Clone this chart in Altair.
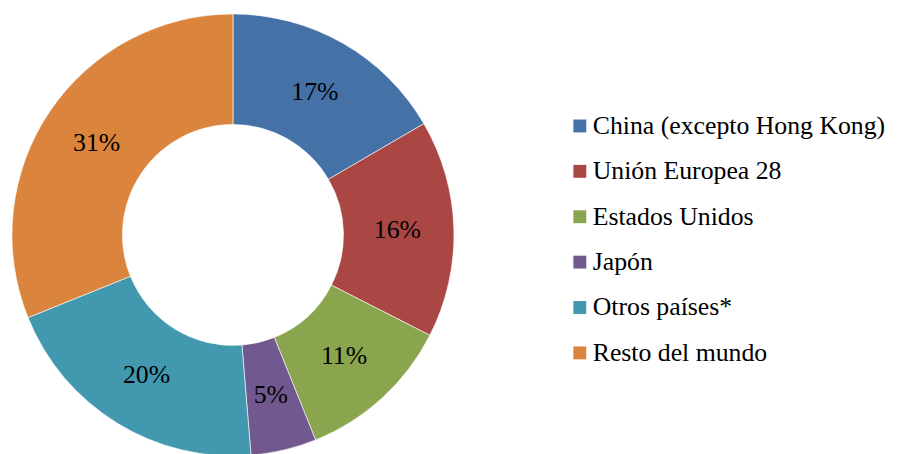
import altair as alt
import pandas as pd

categories = ["China (excepto Hong Kong)", "Unión Europea 28", "Estados Unidos",
              "Japón", "Otros países*", "Resto del mundo"]
values = [16.6, 15.9, 11.4, 4.8, 20.2, 31.1]
labels = ["17%", "16%", "11%", "5%", "20%", "31%"]
colors = ["#4472A7", "#AA4744", "#89A54E", "#71588F", "#4298AF", "#DB843D"]

df = pd.DataFrame({"cat": categories, "value": values, "label": labels,
                   "idx": list(range(len(categories)))})

FONT = "Liberation Serif"

base = alt.Chart(df).encode(
    theta=alt.Theta("value:Q", stack=True),
    order=alt.Order("idx:Q"),
    x=alt.value(227),
    y=alt.value(227),
)

arcs = base.mark_arc(innerRadius=111.5, outerRadius=223, stroke="white",
                     strokeWidth=0.6).encode(
    color=alt.Color("cat:N", sort=categories,
                    scale=alt.Scale(domain=categories, range=colors),
                    legend=alt.Legend(
                        title=None, orient="none", legendX=564, legendY=104,
                        symbolType="square", symbolSize=169, symbolStrokeWidth=0,
                        labelFont=FONT, labelFontSize=26, labelColor="#000000",
                        labelOffset=0, rowPadding=19.8, padding=0,
                        labelLimit=400)),
)

texts = base.mark_text(radius=166, font=FONT, fontSize=26, color="#000000",
                       align="center", baseline="middle").encode(
    text="label:N"
)

chart = (arcs + texts).properties(
    width=891, height=446,
    autosize=alt.AutoSizeParams(type="none"),
    padding=0,
).configure_view(stroke=None)

chart.save("out.html", embed_options={"renderer": "svg", "actions": False})
